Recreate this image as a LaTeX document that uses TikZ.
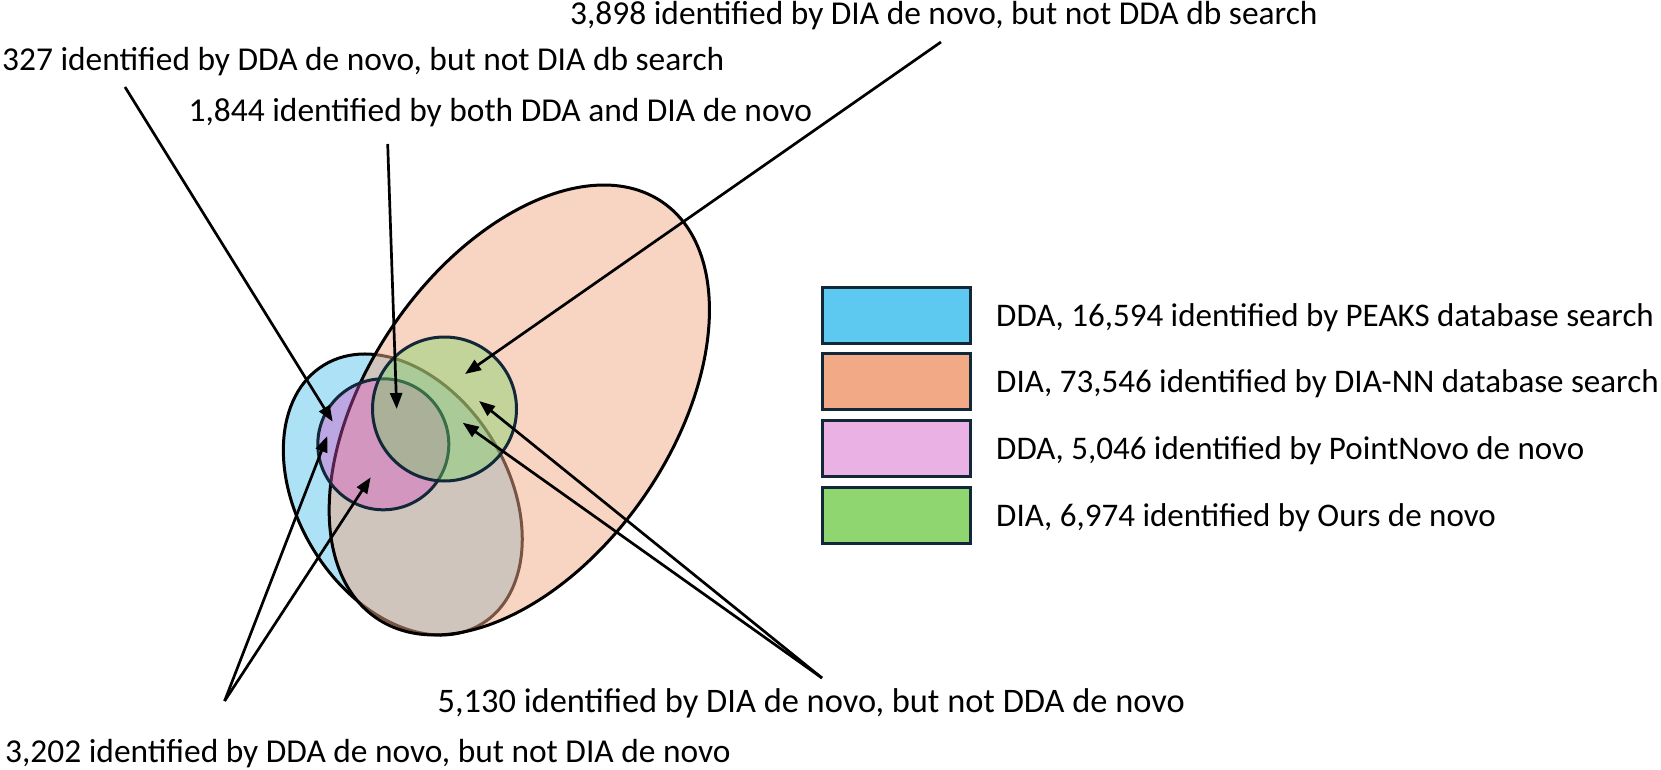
\documentclass[tikz,border=0pt]{standalone}
\usepackage{fontspec}
\setmainfont{Carlito}
\usetikzlibrary{arrows.meta}
\definecolor{vblue}{RGB}{91,197,237}
\definecolor{vorange}{RGB}{241,169,133}
\definecolor{vpink}{RGB}{215,81,196}
\definecolor{vgreen}{RGB}{115,214,96}
\definecolor{lblue}{RGB}{93,201,241}
\definecolor{lorange}{RGB}{241,170,133}
\definecolor{lpink}{RGB}{234,178,228}
\definecolor{lgreen}{RGB}{143,214,113}
\definecolor{navy}{RGB}{18,40,56}
\begin{document}
\begin{tikzpicture}[x=1pt,y=-1pt,
  lbl/.style={anchor=base west, inner sep=0pt, font=\fontsize{33.4}{40}\selectfont},
  leglbl/.style={anchor=base west, inner sep=0pt, font=\fontsize{33}{40}\selectfont},
  setline/.style={line width=3pt},
  ptr/.style={line width=2.7pt, -{Triangle[length=16pt,width=12pt]}},
  legbox/.style={draw=navy, line width=3pt, minimum width=148pt, minimum height=56pt, inner sep=0pt}]
\useasboundingbox (0,0) rectangle (1661,770);
% sets
\draw[setline, draw=black, fill=vblue, fill opacity=0.5, rotate around={31.4:(402.8,494.5)}]
  (402.8,494.5) ellipse [x radius=105pt, y radius=151.6pt];
\draw[setline, draw=black, fill=vorange, fill opacity=0.5, rotate around={-34.6:(519.3,410)}]
  (519.3,410) ellipse [x radius=151.8pt, y radius=252.4pt];
\draw[setline, draw=navy, fill=vpink, fill opacity=0.4] (383.3,444.3) circle [radius=65.5pt];
\draw[setline, draw=navy, fill=vgreen, fill opacity=0.4] (444.5,409) circle [radius=72pt];
% labels
\node[lbl] (l3898) at (570,25) {3,898 identified by DIA de novo, but not DDA db search};
\node[lbl] (l327) at (2,71) {327 identified by DDA de novo, but not DIA db search};
\node[lbl] (l1844) at (188.5,122) {1,844 identified by both DDA and DIA de novo};
\node[lbl, font=\fontsize{34.4}{40}\selectfont] (l5130) at (437.5,712) {5,130 identified by DIA de novo, but not DDA de novo};
\node[lbl] (l3202) at (5,762) {3,202 identified by DDA de novo, but not DIA de novo};
% connector ends
\coordinate (s1) at (941,42);
\coordinate (e1) at (465,374);
\coordinate (s2) at (387.7,144);
\coordinate (e2) at (396.7,409);
\coordinate (s3) at (125,87);
\coordinate (e3) at (332.7,421.7);
\coordinate (s4) at (224.6,701);
\coordinate (e4a) at (327.3,436);
\coordinate (e4b) at (370.7,477.3);
\coordinate (s5) at (822,678);
\coordinate (e5a) at (479,401);
\coordinate (e5b) at (462.7,422.7);
\draw[ptr] (s1) -- (e1);
\draw[ptr] (s2) -- (e2);
\draw[ptr] (s3) -- (e3);
\draw[ptr] (s4) -- (e4a);
\draw[ptr] (s4) -- (e4b);
\draw[ptr] (s5) -- (e5a);
\draw[ptr] (s5) -- (e5b);
% legend
\node[legbox, fill=lblue] (k1) at (896,315) {};
\node[legbox, fill=lorange] (k2) at (896,381.5) {};
\node[legbox, fill=lpink] (k3) at (896,448) {};
\node[legbox, fill=lgreen] (k4) at (896,515) {};
\node[leglbl] (t1) at (996,326) {DDA, 16,594 identified by PEAKS database search};
\node[leglbl] (t2) at (996,392.5) {DIA, 73,546 identified by DIA-NN database search};
\node[leglbl] (t3) at (996,459) {DDA, 5,046 identified by PointNovo de novo};
\node[leglbl] (t4) at (996,526) {DIA, 6,974 identified by Ours de novo};
\end{tikzpicture}
\end{document}
